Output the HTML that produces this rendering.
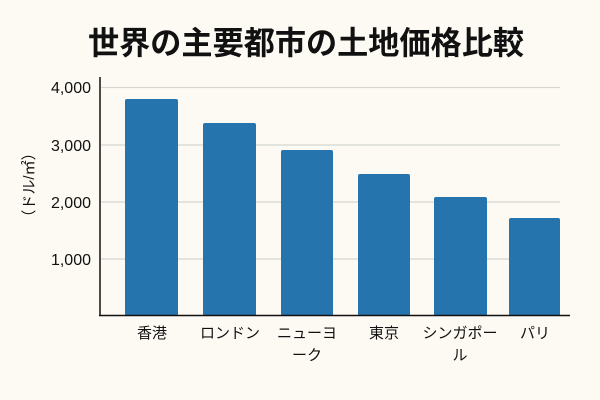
<!DOCTYPE html>
<html><head><meta charset="utf-8"><style>
html,body{margin:0;padding:0;background:#fcfaf3;}
</style></head><body>
<svg width="600" height="400" viewBox="0 0 600 400" xmlns="http://www.w3.org/2000/svg" style="display:block">
<rect width="600" height="400" fill="#fcfaf3"/>
<text x="306" y="54" text-anchor="middle" font-family="'Noto Sans CJK JP',sans-serif" font-weight="bold" font-size="32" textLength="436" lengthAdjust="spacingAndGlyphs" fill="#111">世界の主要都市の土地価格比較</text>
<g stroke="#d6d6d2" stroke-width="1.2">
<line x1="101" y1="87.5" x2="560" y2="87.5"/>
<line x1="101" y1="145" x2="560" y2="145"/>
<line x1="101" y1="202" x2="560" y2="202"/>
<line x1="101" y1="259" x2="560" y2="259"/>
</g>
<g fill="#2574ad">
<rect x="125" y="99" width="53" height="217" rx="2"/>
<rect x="203" y="123" width="53" height="193" rx="2"/>
<rect x="281" y="150" width="52" height="166" rx="2"/>
<rect x="358" y="174" width="52" height="142" rx="2"/>
<rect x="434" y="197" width="53" height="119" rx="2"/>
<rect x="509" y="218" width="51" height="98" rx="2"/>
</g>
<line x1="100" y1="77" x2="100" y2="316" stroke="#111" stroke-width="1.5"/>
<line x1="99" y1="315.5" x2="570" y2="315.5" stroke="#111" stroke-width="1.5"/>
<g font-family="'Liberation Sans',sans-serif" font-size="16" fill="#111" text-anchor="end">
<text x="91" y="93">4,000</text>
<text x="91" y="151">3,000</text>
<text x="91" y="208">2,000</text>
<text x="91" y="265">1,000</text>
</g>
<text transform="translate(34,185) rotate(-90)" text-anchor="middle" font-family="'Liberation Sans','Noto Sans CJK JP',sans-serif" font-size="15" fill="#111">（ドル/㎡）</text>
<g font-family="'Liberation Sans','Noto Sans CJK JP',sans-serif" font-size="15" fill="#111" text-anchor="middle">
<text x="152" y="338">香港</text>
<text x="230" y="338">ロンドン</text>
<text x="307" y="338">ニューヨ</text>
<text x="307" y="360">ーク</text>
<text x="384" y="338">東京</text>
<text x="460" y="338">シンガポー</text>
<text x="460" y="360">ル</text>
<text x="535" y="338">パリ</text>
</g>
</svg>
</body></html>
